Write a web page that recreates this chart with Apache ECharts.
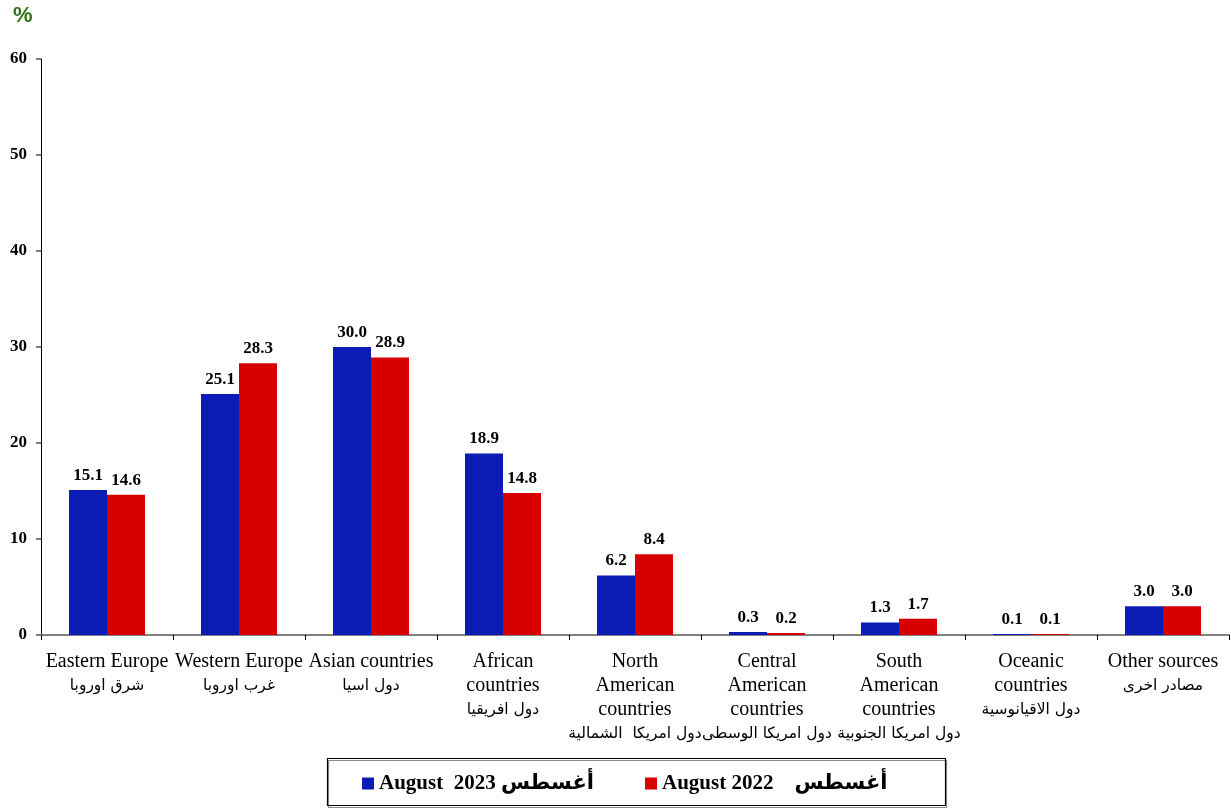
<!DOCTYPE html>
<html><head><meta charset="utf-8">
<script src="https://cdn.jsdelivr.net/npm/echarts@6/dist/echarts.min.js"></script>
<style>html,body{margin:0;padding:0;background:#fff}#c{width:1231px;height:811px}</style>
</head><body><div id="c"></div>
<script>
const categoriesEn = ['Eastern Europe','Western Europe','Asian countries','African\ncountries','North\nAmerican\ncountries','Central\nAmerican\ncountries','South\nAmerican\ncountries','Oceanic\ncountries','Other sources'];
const categoriesAr = ['شرق اوروبا','غرب اوروبا','دول اسيا','دول افريقيا','دول امريكا  الشمالية','دول امريكا الوسطى','دول امريكا الجنوبية','دول الاقيانوسية','مصادر اخرى'];
const aug2023 = [15.1, 25.1, 30.0, 18.9, 6.2, 0.3, 1.3, 0.1, 3.0];
const aug2022 = [14.6, 28.3, 28.9, 14.8, 8.4, 0.2, 1.7, 0.1, 3.0];
const name2023 = 'August  2023 أغسطس';
const name2022 = 'August 2022    أغسطس';
const yTicks = {min: 0, max: 60, interval: 10};

const serif = '"Liberation Serif", "Times New Roman", serif';
const arFont = '"DejaVu Sans", sans-serif';
const labels = categoriesEn.map((en, i) => en.split('\n').map(l => '{en|' + l + '}').join('\n') + '\n{ar|' + categoriesAr[i] + '}');

const chart = echarts.init(document.getElementById('c'));
const labelOpt = {show: true, position: 'top', distance: 6, formatter: p => p.value.toFixed(1),
  fontFamily: serif, fontWeight: 'bold', fontSize: 17, color: '#000'};
const legendText = {fontFamily: serif + ', "DejaVu Sans"', fontWeight: 'bold', fontSize: 21, color: '#000'};
chart.setOption({
  animation: false,
  grid: {left: 41, right: 2, top: 59, bottom: 176, containLabel: false},
  title: {text: '%', left: 13, top: 5, padding: 0, textStyle: {color: '#2f7414', fontSize: 22, fontWeight: 'bold', fontFamily: '"Liberation Sans", Arial, sans-serif'}},
  legend: [
    {data: [name2023], left: 362, top: 773, padding: 0, icon: 'rect', itemWidth: 12, itemHeight: 12, itemGap: 0, textStyle: legendText},
    {data: [name2022], left: 645, top: 773, padding: 0, icon: 'rect', itemWidth: 12, itemHeight: 12, itemGap: 0, textStyle: legendText}
  ],
  graphic: [{type: 'rect', shape: {x: 327.5, y: 758.5, width: 618, height: 47},
    style: {fill: 'none', stroke: '#000', lineWidth: 1.2, shadowColor: 'rgba(0,0,0,0.45)', shadowOffsetY: 2, shadowOffsetX: 1, shadowBlur: 0}, z: -1}],
  xAxis: {type: 'category', data: labels,
    axisLine: {lineStyle: {color: '#808080', width: 2}},
    axisTick: {show: true, length: 5, lineStyle: {color: '#000'}},
    axisLabel: {interval: 0, margin: 15, formatter: v => v, color: '#000',
      rich: {en: {fontFamily: serif, fontSize: 20, lineHeight: 24, color: '#000'},
             ar: {fontFamily: arFont, fontSize: 15.5, lineHeight: 24, color: '#000'}}}},
  yAxis: {type: 'value', min: yTicks.min, max: yTicks.max, interval: yTicks.interval,
    axisLine: {show: true, lineStyle: {color: '#000', width: 1}},
    axisTick: {show: true, length: 5, lineStyle: {color: '#808080', width: 2}},
    splitLine: {show: false},
    axisLabel: {margin: 14, fontFamily: serif, fontWeight: 'bold', fontSize: 17, color: '#000', padding: [3, 0, 0, 0]}},
  series: [
    {name: name2023, type: 'bar', data: aug2023, barWidth: 38, barGap: '0%', itemStyle: {color: '#0a1cb4'}, label: labelOpt},
    {name: name2022, type: 'bar', data: aug2022, barWidth: 38, barGap: '0%', itemStyle: {color: '#d60000'}, label: labelOpt}
  ]
});
</script></body></html>
